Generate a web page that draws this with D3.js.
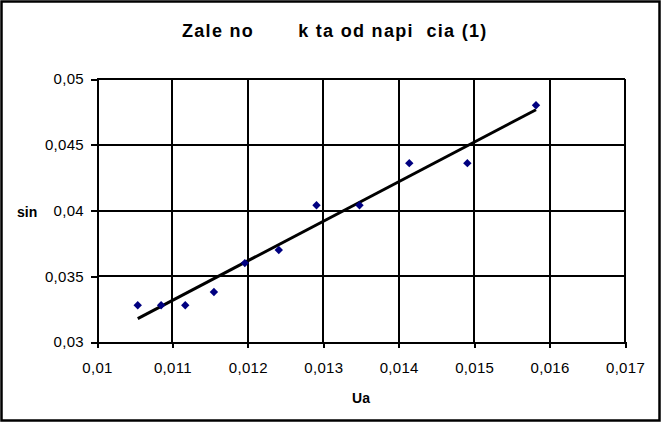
<!DOCTYPE html>
<html>
<head>
<meta charset="UTF-8">
<title>Zale no k ta od napi cia (1)</title>
<style>
body {
    margin: 0;
    background: #fff;
}

svg text {
    font-family: "Liberation Sans", Arial, sans-serif;
    fill: #000;
}

.tick text {
    font-size: 15px;
    letter-spacing: 0.3px;
}

.axis path,
.axis line {
    stroke: #000;
    stroke-width: 2px;
    shape-rendering: crispEdges;
}

.grid line {
    stroke: #000;
    stroke-width: 2px;
    shape-rendering: crispEdges;
}

.title {
    font-size: 18px;
    font-weight: bold;
    letter-spacing: 1.3px;
    white-space: pre;
}

.axis-title {
    font-size: 14px;
    font-weight: bold;
}

.trend {
    fill: none;
    stroke: #000;
    stroke-width: 3px;
}

.point {
    fill: #000080;
}
</style>
</head>
<body>
<div class="chart"></div>
<script src="https://cdn.jsdelivr.net/npm/d3@7"></script>
<script>

// napiecie Ua (x) i sin kata (y)
const ua = [0.01054, 0.01085, 0.01117, 0.01155, 0.01196, 0.01241, 0.01291, 0.01348, 0.01414, 0.01491, 0.01582];
const sinVals = [0.0328, 0.0328, 0.0328, 0.0338, 0.0360, 0.0370, 0.0404, 0.0404, 0.0436, 0.0436, 0.0480];

const xTicks = [0.01, 0.011, 0.012, 0.013, 0.014, 0.015, 0.016, 0.017];
const yTicks = [0.03, 0.035, 0.04, 0.045, 0.05];

const titleText = 'Zale no       k ta od napi  cia (1)';
const xTitle = 'Ua';
const yTitle = 'sin';

let width = 662, height = 424,
    pLeft = 97, pRight = 625, pTop = 79, pBottom = 342;

let svg = d3.select('.chart').append('svg')
    .attr('width', width)
    .attr('height', height);

// ramka dookola
svg.append('rect')
    .attr('x', 1.5)
    .attr('y', 1.5)
    .attr('width', 658)
    .attr('height', 419)
    .attr('fill', '#fff')
    .attr('stroke', '#000')
    .attr('stroke-width', 2.5);

let xScale = d3.scaleLinear()
    .domain([xTicks[0], xTicks[xTicks.length - 1]])
    .range([pLeft, pRight]);

let yScale = d3.scaleLinear()
    .domain([yTicks[0], yTicks[yTicks.length - 1]])
    .range([pBottom, pTop]);

const fmt = d => String(+d.toFixed(4)).replace('.', ',');

// siatka
let grid = svg.append('g').attr('class', 'grid');
grid.selectAll('.gx')
    .data(xTicks.slice(1))
    .enter().append('line')
    .attr('x1', d => xScale(d))
    .attr('x2', d => xScale(d))
    .attr('y1', pTop)
    .attr('y2', pBottom);
grid.selectAll('.gy')
    .data(yTicks.slice(1))
    .enter().append('line')
    .attr('x1', pLeft)
    .attr('x2', pRight)
    .attr('y1', d => yScale(d))
    .attr('y2', d => yScale(d));

let xAxis = d3.axisBottom(xScale)
    .tickValues(xTicks)
    .tickFormat(fmt)
    .tickSize(6)
    .tickSizeOuter(0)
    .tickPadding(14);

svg.append('g')
    .attr('class', 'axis')
    .attr('transform', 'translate(0,' + pBottom + ')')
    .call(xAxis);

let yAxis = d3.axisLeft(yScale)
    .tickValues(yTicks)
    .tickFormat(fmt)
    .tickSize(6)
    .tickSizeOuter(0)
    .tickPadding(7);

svg.append('g')
    .attr('class', 'axis')
    .attr('transform', 'translate(' + pLeft + ',0)')
    .call(yAxis);

// linia trendu - regresja liniowa
let mx = d3.mean(ua),
    my = d3.mean(sinVals);
let sxy = d3.sum(ua, (x, i) => (x - mx) * (sinVals[i] - my)),
    sxx = d3.sum(ua, x => (x - mx) * (x - mx));
let slope = sxy / sxx, icpt = my - slope * mx;
let xEnds = d3.extent(ua);

let line = d3.line()
    .x(d => xScale(d))
    .y(d => yScale(slope * d + icpt));

svg.append('path')
    .attr('class', 'trend')
    .attr('d', line(xEnds));

// punkty
let diamond = d3.symbol().type(d3.symbolDiamond2).size(45);
svg.selectAll('.point')
    .data(ua)
    .enter().append('path')
    .attr('class', 'point')
    .attr('transform', (d, i) => 'translate(' + xScale(d) + ',' + yScale(sinVals[i]) + ')')
    .attr('d', diamond);

svg.append('text')
    .attr('class', 'title')
    .attr('x', 182)
    .attr('y', 37)
    .text(titleText);

svg.append('text')
    .attr('class', 'axis-title')
    .attr('x', (pLeft + pRight) / 2)
    .attr('y', 403)
    .attr('text-anchor', 'middle')
    .text(xTitle);

svg.append('text')
    .attr('class', 'axis-title')
    .attr('x', 17)
    .attr('y', 217)
    .text(yTitle);

</script>
</body>
</html>
